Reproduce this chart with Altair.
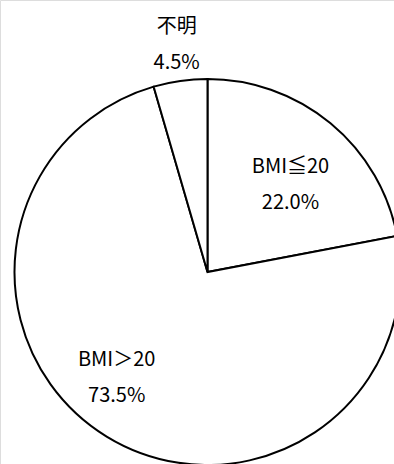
import math
import altair as alt
import pandas as pd

# ---- data ----
categories = ["BMI≦20", "BMI＞20", "不明"]
values = [22.0, 73.5, 4.5]
order = [0, 1, 2]

# ---- layout (label anchor: radius px, angle deg clockwise from north) ----
LABEL_LAYOUT = {
    "BMI≦20": (121, 43.3),
    "BMI＞20": (139, 220.8),
    "不明": (230, 352.3),
}
CX, CY, R = 207.5, 272, 193

df = pd.DataFrame({"category": categories, "value": values, "order": order})
df["label"] = [f"{c}\n{v:.1f}%" for c, v in zip(categories, values)]
df["lr"] = [LABEL_LAYOUT[c][0] for c in categories]
df["la"] = [math.radians(LABEL_LAYOUT[c][1]) for c in categories]

base = alt.Chart(df)

arcs = base.mark_arc(
    radius=R, fill="white", stroke="black", strokeWidth=2
).encode(
    theta=alt.Theta("value:Q", stack=True),
    order=alt.Order("order:Q"),
    x=alt.value(CX),
    y=alt.value(CY),
)

labels = base.mark_text(
    font="Noto Sans CJK JP", fontSize=20, color="black", dy=-17,
    lineBreak="\n", lineHeight=36, align="center", baseline="middle",
).encode(
    text="label:N",
    theta=alt.Theta("la:Q", scale=None, stack=False),
    radius=alt.Radius("lr:Q", scale=None),
    x=alt.value(CX),
    y=alt.value(CY),
)

chart = alt.layer(arcs, labels).resolve_scale(
    theta="independent", radius="independent"
).properties(
    width=394, height=464, padding=0,
    autosize=alt.AutoSizeParams(type="none"),
).configure_view(stroke=None).configure(background="white")

chart.save("out.html", embed_options={"renderer": "svg", "actions": False})
